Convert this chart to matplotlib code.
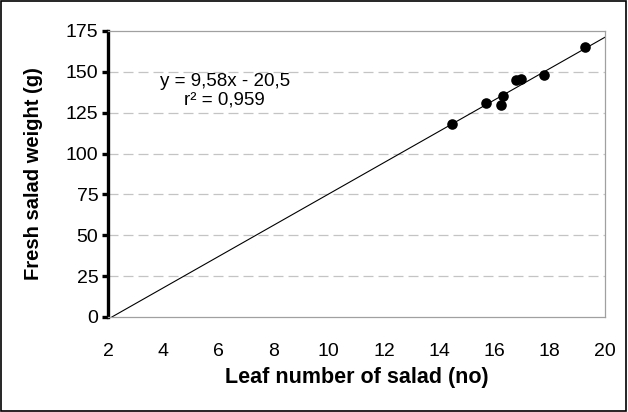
import matplotlib
matplotlib.use("Agg")
import matplotlib.pyplot as plt
import numpy as np

# leaf number vs fresh weight
leaf_no = [14.45, 15.7, 16.25, 16.3, 16.8, 16.95, 17.8, 19.3]
weight_g = [118, 131, 130, 135, 145, 145.5, 148, 165]

slope = 9.58
intercept = -20.5
eq_text = "y = 9,58x - 20,5"
r2_text = "r² = 0,959"

x_ticks = [2, 4, 6, 8, 10, 12, 14, 16, 18, 20]
y_ticks = [0, 25, 50, 75, 100, 125, 150, 175]

plt.rcParams['font.family'] = ['Liberation Sans', 'DejaVu Sans']

fig = plt.figure(figsize=(6.28, 4.12), dpi=100)
ax = fig.add_axes([0.172, 0.2306, 0.791, 0.6942])

# outer frame of the picture
fig.patches.append(plt.Rectangle((0.002, 0.003), 0.995, 0.994, transform=fig.transFigure,
                                 fill=False, edgecolor='black', linewidth=1.2))

ax.set_xlim(2, 20)
ax.set_ylim(0, 175)
ax.set_xticks(x_ticks)
ax.set_yticks(y_ticks)

for y in y_ticks[1:-1]:
    ax.axhline(y, color='#c4c4c4', linewidth=0.9, linestyle=(0, (8, 4)), zorder=0)

# trend line
x0 = -intercept / slope
xs = np.array([x0, 20])
ax.plot(xs, slope * xs + intercept, color='black', linewidth=0.8, zorder=2)

ax.scatter(leaf_no, weight_g, s=58, color='black', zorder=3, linewidths=0)

for side in ['top', 'right', 'bottom']:
    ax.spines[side].set_color('#a0a0a0')
    ax.spines[side].set_linewidth(0.9)
ax.spines['left'].set_color('black')
ax.spines['left'].set_linewidth(2.4)

ax.tick_params(axis='y', direction='out', length=4, width=2.4, color='black',
               labelsize=14, pad=3)
ax.tick_params(axis='x', length=0, labelsize=14, pad=19)

ax.set_xlabel("Leaf number of salad (no)", fontsize=15.5, fontweight='bold', labelpad=5)
ax.set_ylabel("Fresh salad weight (g)", fontsize=14.5, fontweight='bold', labelpad=16)

ax.text(0.235, 0.79, eq_text + "\n" + r2_text, transform=ax.transAxes, ha='center', va='center',
        fontsize=13.5, linespacing=1.1)

fig.savefig("out.png", dpi=100)
